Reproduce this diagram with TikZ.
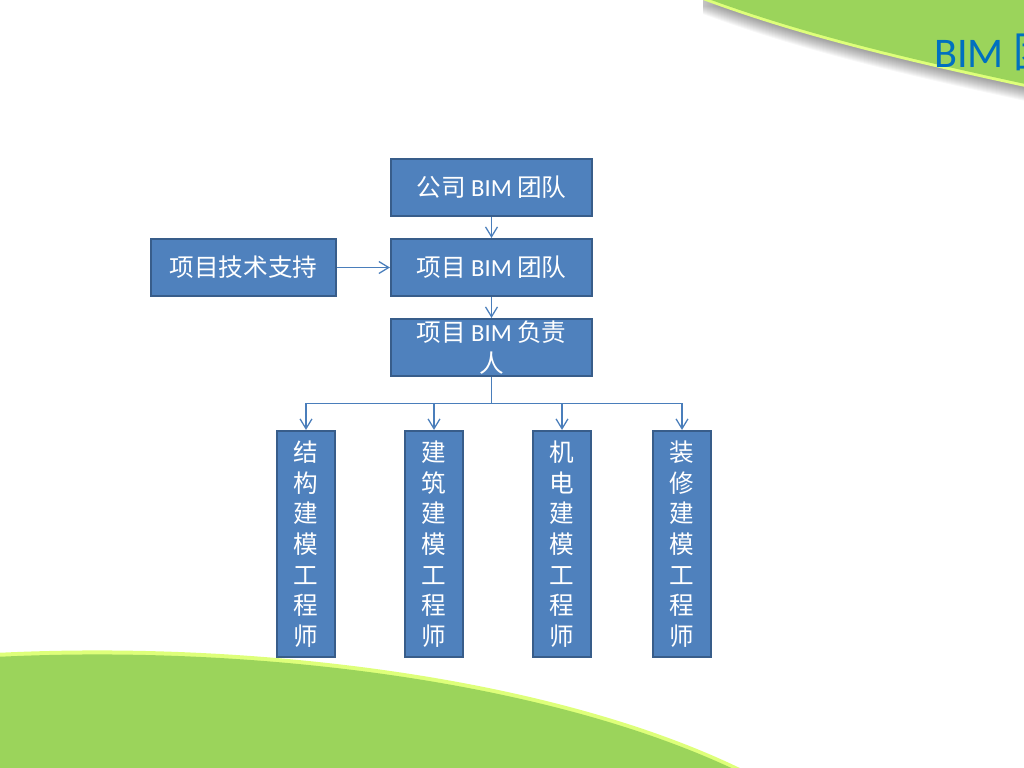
\documentclass[tikz,border=0pt]{standalone}
\usepackage{fontspec}
\setmainfont{Carlito}
\newfontfamily\cjk{Noto Sans CJK SC}
\usetikzlibrary{arrows.meta}
\definecolor{boxfill}{RGB}{79,129,189}
\definecolor{boxline}{RGB}{56,93,138}
\definecolor{linkblue}{RGB}{74,126,187}
\definecolor{leaf}{RGB}{155,212,91}
\definecolor{rim}{RGB}{222,255,122}
\definecolor{titleblue}{RGB}{0,112,192}
\tikzstyle{box} = [rectangle, draw=boxline, line width=1.5pt, fill=boxfill, text=white, inner sep=0pt, align=center, font=\cjk\fontsize{17.5}{21.8}\selectfont]
\tikzstyle{widebox} = [box, minimum width=5.025cm, minimum height=1.425cm]
\tikzstyle{supportbox} = [box, minimum width=4.625cm, minimum height=1.425cm]
\tikzstyle{tallbox} = [box, minimum width=1.45cm, minimum height=5.65cm]
\tikzstyle{link} = [draw=linkblue, line width=0.9pt]
\tikzstyle{arrow} = [link, -{Straight Barb[length=7pt,width=8.5pt]}]
\def \bim{{\rmfamily BIM}}
\def \topleaf{(703,0) .. controls (800,36) and (900,60) .. (1030,88) -- (1030,-8) -- (703,-8) -- cycle}
\def \bottomleaf{(-5,653) .. controls (250,640) and (555,676) .. (748,772) -- (-5,772) -- cycle}

\begin{document}
\begin{tikzpicture}[x=0.025cm, y=-0.025cm]
\useasboundingbox (0,0) rectangle (1024,768);

% Background leaves, top right with its shadow
\foreach \d in {1,...,14} \fill[black, opacity=0.03, shift={(0,\d)}] \topleaf;
\fill[rim] \topleaf;
\fill[leaf, shift={(0,-3)}] \topleaf;
% bottom left
\fill[rim] \bottomleaf;
\fill[leaf, shift={(0,4)}] \bottomleaf;
% Title, cut by the page edge
\node[anchor=base west, inner sep=0pt, text=titleblue, font=\fontsize{30}{36}\selectfont] (title) at (934,68) {BIM {\cjk 团}};

% Chain of teams
\node[widebox] (n1) at (491.5,187.5) {公司 \bim{} 团队};
\node[widebox] (n2) at (491.5,267.5) {项目 \bim{} 团队};
\node[supportbox] (n0) at (243.5,267.5) {项目技术支持};
\node[widebox] (n3) at (491.5,347.5) {项目 \bim{} 负责\\人};
% Modelling engineers
\node[tallbox] (n41) at (306,544) {结\\构\\建\\模\\工\\程\\师};
\node[tallbox] (n42) at (434,544) {建\\筑\\建\\模\\工\\程\\师};
\node[tallbox] (n43) at (562,544) {机\\电\\建\\模\\工\\程\\师};
\node[tallbox] (n44) at (682,544) {装\\修\\建\\模\\工\\程\\师};

% Connectors
\draw[arrow] (n1) -- (n2);
\draw[arrow] (n0) -- (n2);
\draw[arrow] (n2) -- (n3);
\coordinate (fork) at (491.5,403.5);
\draw[link] (n3) -- (fork);
\foreach \n in {41,42,43,44} \draw[arrow] (fork) -| (n\n);
\end{tikzpicture}
\end{document}
